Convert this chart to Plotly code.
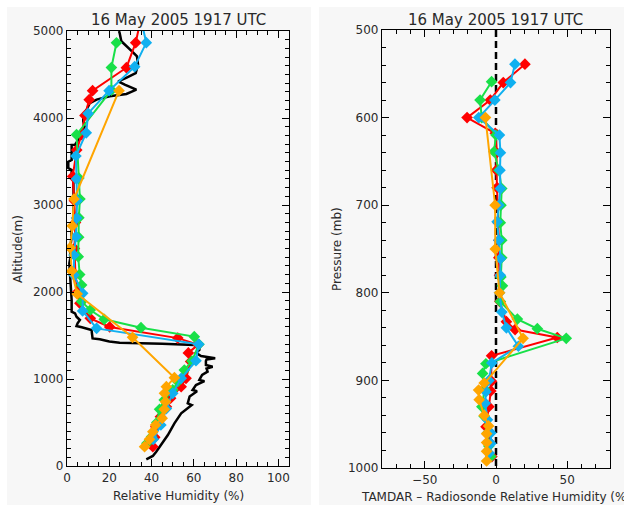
import plotly.graph_objects as go

W, H = 624, 507

# ---------------- Left panel: RH profiles vs altitude ----------------
# Radiosonde (black)
rs_alt = [5000, 4977, 4882, 4824, 4760, 4709, 4613, 4560, 4517, 4460, 4422, 4383, 4326,
          4300, 4276, 4249, 4211, 4172, 4095, 4038, 3962, 3900, 3808, 3747, 3693, 3690,
          3517, 3498, 3425, 3402, 3307, 3287, 3000, 2750, 2720, 2600, 2483, 2406, 2330,
          2200, 2100, 1908, 1774, 1755, 1716, 1678, 1640, 1609, 1595, 1582, 1563, 1467,
          1456, 1430, 1418, 1405, 1391, 1371, 1333, 1300, 1264, 1238, 1225, 1207, 1161,
          1141, 1120, 1084, 1046, 989, 975, 931, 874, 860, 800, 720, 700, 605, 490, 356,
          241, 164, 115, 77]
rs_rh = [24.6, 24.9, 25.7, 28.0, 31.0, 33.1, 33.6, 33.0, 32.5, 28.0, 24.2, 27.3, 32.8,
         30.4, 28.1, 20.2, 14.0, 10.8, 9.3, 7.7, 7.7, 8.3, 5.8, 5.3, 3.8, 2.2,
         2.2, 0.6, 0.6, 2.2, 2.2, 3.0, 3.2, 3.3, 2.2, 2.0, 1.4, 1.7, 1.1,
         1.5, 1.7, 2.2, 2.2, 3.8, 4.5, 6.1, 5.0, 4.5, 7.0, 8.5, 11.6, 12.1,
         15.5, 20.0, 24.9, 45.0, 60.2, 62.6, 62.6, 61.0, 63.4, 70.1, 66.0, 65.7, 65.7,
         68.9, 66.0, 66.5, 63.9, 62.6, 65.0, 61.0, 59.4, 61.5, 58.0, 57.1, 59.0, 54.0, 50.8, 47.7,
         44.6, 42.2, 40.6, 37.5]

# TAMDAR soundings
red_alt = [5150, 4866, 4578, 4314, 4211, 4030, 3808, 3632, 3330, 3050, 2800, 2500, 2200,
           2000, 1870, 1697, 1598, 1470, 1395, 1300, 1200, 1008, 912, 780, 680, 567, 450, 330, 222]
red_rh = [35.0, 32.5, 28.1, 12.1, 10.5, 8.5, 6.9, 4.6, 2.7, 3.5, 4.0, 3.5, 4.0,
          5.0, 6.1, 11.0, 20.2, 52.4, 62.0, 57.4, 58.5, 56.3, 54.0, 49.0, 47.0, 44.2, 42.0, 41.5, 40.6]

green_alt = [4865, 4580, 4320, 3808, 3310, 3069, 2854, 2630, 2406, 2200, 2080, 1892, 1793,
             1686, 1590, 1487, 1399, 1207, 1103, 969, 874, 760, 652, 500, 337, 261]
green_rh = [23.4, 21.0, 21.0, 4.5, 5.6, 6.1, 5.6, 5.5, 5.3, 6.0, 6.9, 6.9, 11.0,
            17.6, 35.0, 60.2, 62.4, 59.1, 55.5, 52.4, 50.0, 46.0, 43.8, 42.5, 40.0, 37.8]

cyan_alt = [5150, 4866, 4590, 4314, 4053, 3830, 3563, 3300, 3050, 2850, 2636, 2425, 2195,
            1985, 1782, 1582, 1399, 1210, 1008, 835, 660, 471, 307]
cyan_rh = [34.8, 37.5, 32.0, 19.9, 10.0, 9.1, 4.2, 4.5, 4.8, 4.5, 4.2, 3.3, 3.3,
           7.4, 7.4, 14.0, 62.3, 61.0, 54.0, 50.0, 47.0, 44.4, 40.8]

orange_alt = [4314, 3069, 2760, 2510, 2240, 1977, 1479, 1015, 912, 835, 739, 652, 548,
              471, 394, 307, 222]
orange_rh = [24.6, 3.3, 2.5, 1.5, 2.2, 4.8, 31.0, 50.8, 47.0, 46.1, 46.6, 46.0, 45.0,
             41.9, 40.6, 39.0, 36.7]

# ---------------- Right panel: TAMDAR - radiosonde RH vs pressure ----------------
red_p = [539, 560, 580, 600, 618, 640, 660, 680, 700, 720, 740, 760, 780, 810, 833, 842,
         851, 872, 901, 912, 930, 953, 970, 987]
red_d = [20.3, 5.1, -4.0, -20.3, -0.5, 0.5, 0.3, 0.8, 1.5, 1.5, 2.0, 2.0, 2.5, 2.7, 7.3,
         13.4, 43.0, -3.1, -3.1, -3.6, -5.0, -7.0, -5.0, -2.9]

green_p = [559, 580, 600, 620, 639, 660, 681, 700, 720, 740, 760, 782, 792, 810, 830, 841,
           852, 881, 892, 910, 930, 941, 960, 975, 987]
green_d = [-3.1, -11.2, -10.0, 0.0, -1.4, 2.0, 4.0, 3.5, 3.0, 4.0, 4.0, 3.4, 4.5, 3.0,
           15.0, 29.0, 49.3, -7.1, -9.4, -8.0, -9.9, -8.3, -6.0, -5.0, -3.6]

cyan_p = [539, 560, 580, 600, 620, 640, 660, 681, 700, 719, 740, 761, 780, 800, 822, 840,
          861, 880, 900, 913, 926, 945, 960, 972, 983]
cyan_d = [13.3, 10.2, -0.8, -12.1, 2.4, 3.1, 2.8, 3.1, 2.0, 0.8, 2.0, 3.1, 3.0, 2.5, 4.1,
          7.3, 15.7, -2.9, -5.0, -7.1, -7.6, -6.0, -3.6, -3.6, -4.8]

orange_p = [600, 700, 750, 800, 852, 903, 911, 922, 940, 952, 961, 971, 981, 992]
orange_d = [-7.4, -0.6, -0.5, 2.5, 19.0, -8.3, -12.2, -11.8, -8.3, -5.2, -6.6, -6.6,
            -6.6, -6.6]

zero_ref = [0, 0]
p_span = [500, 1000]

RED = "#ff0000"
GREEN = "#18e048"
CYAN = "#10b0f0"
ORANGE = "#ffa500"
FONT = "DejaVu Sans"
TXT = "#2a2a2a"

fig = go.Figure()

def profile(x, y, color, xa, ya, width=2, marker=True):
    fig.add_trace(go.Scatter(
        x=x, y=y, xaxis=xa, yaxis=ya,
        mode="lines+markers" if marker else "lines",
        line=dict(color=color, width=width),
        marker=dict(symbol="diamond", size=9, color=color, line=dict(width=0)),
        cliponaxis=True, showlegend=False, hoverinfo="skip"))

# left panel
profile(rs_rh, rs_alt, "black", "x", "y", width=2.5, marker=False)
profile(red_rh, red_alt, RED, "x", "y")
profile(green_rh, green_alt, GREEN, "x", "y")
profile(cyan_rh, cyan_alt, CYAN, "x", "y")
profile(orange_rh, orange_alt, ORANGE, "x", "y")

# right panel
fig.add_trace(go.Scatter(x=zero_ref, y=p_span, xaxis="x2", yaxis="y2", mode="lines",
                         line=dict(color="black", width=2.5, dash="7px,4px"),
                         showlegend=False, hoverinfo="skip"))
profile(red_d, red_p, RED, "x2", "y2")
profile(green_d, green_p, GREEN, "x2", "y2")
profile(cyan_d, cyan_p, CYAN, "x2", "y2")
profile(orange_d, orange_p, ORANGE, "x2", "y2")

def px(v):
    return v / W

def py(v):
    return 1 - v / H

axis_common = dict(
    showline=True, linecolor="black", linewidth=1.2, mirror="allticks",
    ticks="inside", ticklen=7, tickwidth=1, tickcolor="black",
    showgrid=False, zeroline=False, automargin=False,
    tickfont=dict(family=FONT, size=12, color=TXT),
)

fig.update_layout(
    template="none",
    width=W, height=H,
    margin=dict(l=0, r=0, t=0, b=0, pad=0),
    paper_bgcolor="white",
    plot_bgcolor="#f7f7f7",
    font=dict(family=FONT, size=12, color=TXT),
    xaxis=dict(domain=[px(67), px(289)], range=[0, 105], anchor="y",
               tickvals=[0, 20, 40, 60, 80, 100],
               minor=dict(dtick=5, tick0=0, ticks="inside", ticklen=4, tickcolor="black"),
               **axis_common),
    yaxis=dict(domain=[py(466), py(31)], range=[0, 5000], anchor="x",
               tickvals=[0, 1000, 2000, 3000, 4000, 5000],
               minor=dict(dtick=100, tick0=0, ticks="inside", ticklen=4, tickcolor="black"),
               **axis_common),
    xaxis2=dict(domain=[px(382), px(610)], range=[-80, 80], anchor="y2",
                tickvals=[-50, 0, 50],
                minor=dict(dtick=10, tick0=0, ticks="inside", ticklen=4, tickcolor="black"),
                **axis_common),
    yaxis2=dict(domain=[py(468), py(30)], range=[1000, 500], anchor="x2",
                tickvals=[500, 600, 700, 800, 900, 1000],
                minor=dict(dtick=20, tick0=500, ticks="inside", ticklen=4, tickcolor="black"),
                **axis_common),
)

# light panel backgrounds
for x0, x1 in [(7, 311), (319, 624)]:
    fig.add_shape(type="rect", xref="paper", yref="paper",
                  x0=px(x0), x1=px(x1), y0=py(505), y1=py(7),
                  fillcolor="#f7f7f7", line=dict(width=0), layer="below")

def label(text, x, y, size=12, angle=0):
    fig.add_annotation(text=text, xref="paper", yref="paper", x=px(x), y=py(y),
                       showarrow=False, textangle=angle, xanchor="center", yanchor="middle",
                       font=dict(family=FONT, size=size, color=TXT))

title = "16 May 2005 1917 UTC"
label(title, 178, 20, size=15)
label(title, 496, 20, size=15)
label("Relative Humidity (%)", 178, 496)
label("Altitude(m)", 18, 249, angle=-90)
label("Pressure (mb)", 337, 249, angle=-90)
label("TAMDAR – Radiosonde Relative Humidity (%)", 496, 497)

fig.write_html("out.html")
